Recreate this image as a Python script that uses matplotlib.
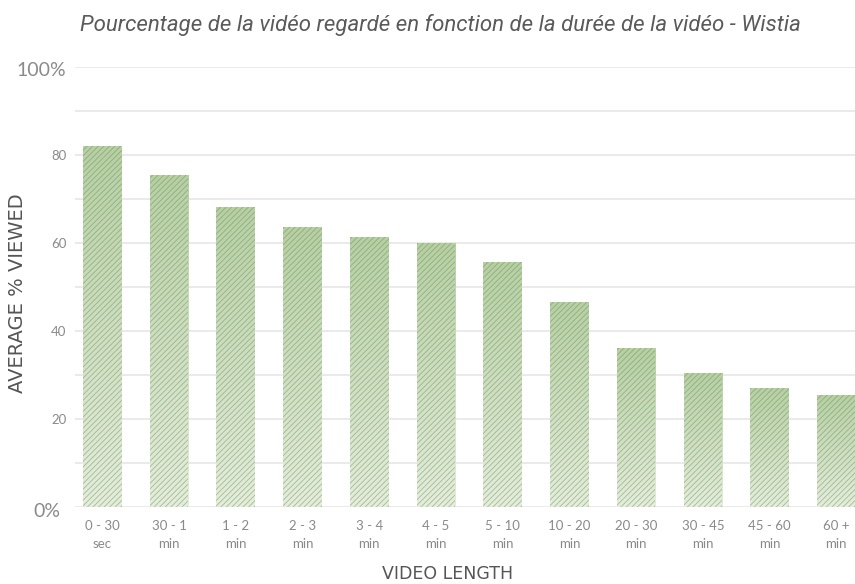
import numpy as np
import matplotlib
matplotlib.use("Agg")
import matplotlib.pyplot as plt
from matplotlib.colors import LinearSegmentedColormap
from matplotlib.transforms import ScaledTranslation

categories = ["0 - 30\nsec", "30 - 1\nmin", "1 - 2\nmin", "2 - 3\nmin", "3 - 4\nmin",
              "4 - 5\nmin", "5 - 10\nmin", "10 - 20\nmin", "20 - 30\nmin",
              "30 - 45\nmin", "45 - 60\nmin", "60 +\nmin"]
values = [82.0, 75.5, 68.2, 63.6, 61.3, 60.0, 55.6, 46.6, 36.1, 30.5, 27.0, 25.5]
ytick_vals = [0, 20, 40, 60, 80, 100]
ytick_labels = ["0%", "20", "40", "60", "80", "100%"]

plt.rcParams['hatch.linewidth'] = 0.6

fig = plt.figure(figsize=(8.55, 5.84), dpi=100)
ax = fig.add_axes([75/855, 77/584, 1 - 75/855, (507-67)/584])

x = np.arange(len(values))
bars = ax.bar(x, values, width=0.58, color="none", linewidth=0, zorder=2)

cmap = LinearSegmentedColormap.from_list("g", ["#e4eeda", "#cddfbf", "#b6d0a2"])
grad = np.linspace(0, 1, 256).reshape(-1, 1)
for b in bars:
    x0, y0 = b.get_x(), b.get_y()
    w, h = b.get_width(), b.get_height()
    im = ax.imshow(grad, extent=[x0, x0 + w, y0, y0 + h], origin="lower",
                   cmap=cmap, aspect="auto", zorder=2, interpolation="bilinear")
    im.set_clip_path(b)

ax.bar(x, values, width=0.58, color="none", edgecolor=(0.40, 0.50, 0.36, 0.48),
       hatch="//////", linewidth=0, zorder=3)

ax.set_xlim(-0.41, 11.28)
ax.set_ylim(0, 100)

for yv in np.arange(0, 101, 10):
    ax.axhline(yv, color="#e4e4e4", lw=1.1, zorder=1)

for s in ax.spines.values():
    s.set_visible(False)

ax.set_yticks(ytick_vals)
ax.set_yticklabels(ytick_labels, fontfamily="Lato", color="#8a8a8a")
ax.tick_params(axis="y", length=0, pad=6)
for lbl, v in zip(ax.get_yticklabels(), ytick_vals):
    if v == 0:
        lbl.set_fontsize(14)
        lbl.set_transform(lbl.get_transform() + ScaledTranslation(-6/100, -3/100, fig.dpi_scale_trans))
    elif v == 100:
        lbl.set_fontsize(14)
        lbl.set_transform(lbl.get_transform() + ScaledTranslation(-1/100, -2/100, fig.dpi_scale_trans))
    else:
        lbl.set_fontsize(9.5)

ax.set_xticks(x)
ax.set_xticklabels(categories, fontfamily="Lato", fontsize=9.5, color="#8a8a8a",
                   linespacing=1.6)
ax.tick_params(axis="x", length=0, pad=9)

fig.text(0.021, (584 - 293) / 584, "AVERAGE % VIEWED", rotation=90, ha="center", va="center",
         fontfamily="DejaVu Sans", fontsize=14, color="#555555")
fig.text(448 / 855, 1 - 574 / 584, "VIDEO LENGTH", ha="center", va="center",
         fontfamily="DejaVu Sans", fontsize=12.5, color="#555555")
fig.text(80 / 855, 1 - 25 / 584,
         "Pourcentage de la vidéo regardé en fonction de la durée de la vidéo - Wistia",
         ha="left", va="center", fontfamily="Roboto", style="italic", fontsize=16,
         color="#5a5a5a")

fig.savefig("out.png", dpi=100)
